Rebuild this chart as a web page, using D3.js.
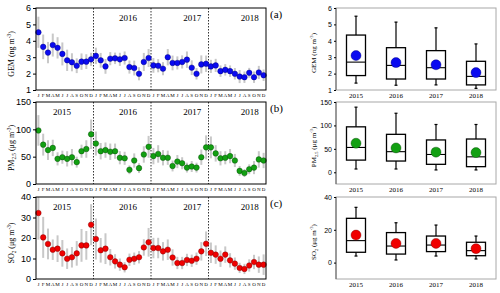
<!DOCTYPE html>
<html>
<head>
<meta charset="utf-8">
<script src="https://cdn.jsdelivr.net/npm/d3@7"></script>
<style>
	body { margin: 0; background: #fff; }
	svg { font-family: 'Liberation Serif', 'DejaVu Serif', serif; display: block; }
</style>
</head>
<body>
<svg width="500" height="293"></svg>
<script>
// month letters and years
var months = ['J','F','M','A','M','J','J','A','S','O','N','D'];
var years = ['2015','2016','2017','2018'];

// monthly means and standard deviations, Jan 2015 - Dec 2018
var gemMean = [4.52,3.63,3.28,3.74,3.57,3.2,2.81,2.69,2.48,2.73,2.73,2.87,
	3.08,2.81,2.44,2.91,2.93,2.87,2.95,2.4,2.34,1.99,2.71,2.95,
	2.5,2.48,2.3,3.0,2.65,2.65,2.71,2.85,2.36,1.99,2.56,2.6,
	2.44,2.5,2.15,2.23,2.15,1.99,1.82,1.78,2.05,1.78,2.07,1.9];
var gemSd = [0.95,0.75,0.65,0.7,0.65,0.7,0.65,0.55,0.45,0.5,0.45,0.4,
	0.5,0.45,0.45,0.4,0.35,0.4,0.4,0.4,0.45,0.4,0.55,0.55,
	0.45,0.4,0.4,0.5,0.45,0.4,0.4,0.5,0.45,0.35,0.55,0.5,
	0.4,0.4,0.35,0.35,0.35,0.35,0.4,0.35,0.3,0.35,0.4,0.35];

var pmMean = [98,72,62,66,46,49,46,49,40,60,64,91,
	74,60,62,59,60,48,47,26,43,29,54,68,
	51,55,48,48,33,41,38,30,32,30,49,67,
	67,56,47,48,51,43,24,20,27,30,45,43];
var pmSd = [28,20,18,15,12,12,14,15,10,12,16,27,
	22,15,14,15,14,12,12,8,13,9,15,20,
	15,16,14,13,10,12,11,9,10,9,14,22,
	20,15,13,12,13,12,9,7,9,12,15,14];

var so2Mean = [32.2,20.3,17.1,14.3,14.8,12.5,9.9,10.6,12.5,16.4,16.4,26.5,
	19.5,14.0,14.8,10.6,8.6,7.0,5.7,9.4,9.9,10.6,15.4,17.9,
	15.1,15.1,13.5,14.3,10.5,7.8,7.8,9.3,8.9,9.9,13.5,17.2,
	12.8,11.9,9.9,11.9,9.1,7.5,5.4,4.9,6.6,8.3,7.0,7.0];
var so2Sd = [13,10,7.5,5,6.5,6.5,5,5,6,8,7,10,
	10,6,7.5,4,3.5,3,2.5,3,3,3,4,7,
	5,5,4.5,5,4,3,3,3,3,3,4.5,6,
	5,4.5,4,4,3.5,3,2.5,2.5,3,3.5,4,5];

// yearly box stats: [whisker low, q1, median, q3, whisker high, mean]
var gemBox = [[1.42,1.88,2.7,4.35,5.5,3.1],[1.29,1.67,2.5,3.58,5.14,2.67],
	[1.31,1.67,2.36,3.4,4.79,2.54],[1.1,1.31,1.83,2.75,3.81,2.06]];
var pmBox = [[7,26,53,97,139,62],[7,24,44,81,126,52],
	[5,17,38,69,102,43],[5,12,33,71,102,42]];
var so2Box = [[4,6.3,13.4,27,33.7,16.8],[1.6,5.2,10.1,18.3,24.3,11.7],
	[4,6.7,10.7,16.2,22.9,11.7],[2.2,4.2,7.3,12.4,16.2,8.5]];

var svg = d3.select('svg');

var panels = [
	{ mean: gemMean, sd: gemSd, box: gemBox, top: 8, dom: [1,6], ticks: [1,2,3,4,5,6],
		boxDom: [1,6], boxTicks: [1,2,3,4,5,6], fill: '#0a0af0', edge: '#000070',
		label: 'GEM', unit: 'ng', tag: '(a)', showFirstYear: false },
	{ mean: pmMean, sd: pmSd, box: pmBox, top: 102, dom: [0,150], ticks: [0,50,100,150],
		boxDom: [-25,150], boxTicks: [0,50,100,150], fill: '#12a012', edge: '#064006',
		label: 'PM', sub: '2.5', unit: 'μg', tag: '(b)', showFirstYear: true },
	{ mean: so2Mean, sd: so2Sd, box: so2Box, top: 197, dom: [0,40], ticks: [0,10,20,30,40],
		boxDom: [-10,40], boxTicks: [0,20,40], fill: '#f00000', edge: '#700000',
		label: 'SO', sub: '2', unit: 'μg', tag: '(c)', showFirstYear: true }
];

var H = 82;
var x = d3.scaleLinear().domain([0, 48]).range([36, 266]);
var xb = d3.scaleBand().domain(years).range([336, 496]);
// year label placement (in months from start of year)
var yearPos = [5.4, 7.2, 8.6, 8.6];

function yLabel(g, cx, cy, p, size) {
	var t = g.append('text')
		.attr('transform', 'translate(' + cx + ',' + cy + ') rotate(-90)')
		.attr('text-anchor', 'middle')
		.attr('font-size', size);
	t.append('tspan').text(p.label);
	if (p.sub) t.append('tspan').attr('font-size', size * 0.65).attr('dy', size * 0.25).text(p.sub);
	t.append('tspan').attr('dy', p.sub ? -size * 0.25 : 0).text(' (' + p.unit + ' m');
	t.append('tspan').attr('font-size', size * 0.65).attr('dy', -size * 0.4).text('-3');
	t.append('tspan').attr('dy', size * 0.4).text(')');
}

panels.forEach(function(p) {
	var y = d3.scaleLinear().domain(p.dom).range([p.top + H, p.top]);
	var g = svg.append('g');

	// error bars
	g.selectAll('rect.err').data(p.mean).enter().append('rect')
		.attr('x', function(d, i) { return x(i + 0.5) - 1; })
		.attr('width', 2)
		.attr('y', function(d, i) { return Math.max(p.top, y(d + p.sd[i])); })
		.attr('height', function(d, i) {
			return Math.min(p.top + H, y(d - p.sd[i])) - Math.max(p.top, y(d + p.sd[i]));
		})
		.attr('fill', '#c8c8c8');

	// year separators
	g.selectAll('line.sep').data([12, 24, 36]).enter().append('line')
		.attr('x1', function(d) { return x(d); }).attr('x2', function(d) { return x(d); })
		.attr('y1', p.top).attr('y2', p.top + H)
		.attr('stroke', '#000').attr('stroke-width', 0.8).attr('stroke-dasharray', '1.5,1.5');

	g.selectAll('circle').data(p.mean).enter().append('circle')
		.attr('cx', function(d, i) { return x(i + 0.5); })
		.attr('cy', function(d) { return y(d); })
		.attr('r', 2.8)
		.attr('fill', p.fill)
		.attr('stroke', p.edge).attr('stroke-width', 0.4);

	// frame
	g.append('rect').attr('x', x(0)).attr('y', p.top).attr('width', x(48) - x(0)).attr('height', H)
		.attr('fill', 'none').attr('stroke', '#000').attr('stroke-width', 1);

	var ya = g.append('g').attr('transform', 'translate(' + x(0) + ',0)')
		.call(d3.axisLeft(y).tickValues(p.ticks).tickFormat(d3.format('d')).tickSize(3).tickPadding(2));
	ya.select('.domain').remove();
	ya.selectAll('text').attr('font-size', 9).attr('font-family', null);

	// month letters
	g.selectAll('text.mon').data(d3.range(48)).enter().append('text')
		.attr('x', function(d) { return x(d + 0.5); })
		.attr('y', p.top + H + 7)
		.attr('text-anchor', 'middle')
		.attr('font-size', 5)
		.text(function(d) { return months[d % 12]; });

	// year labels
	g.selectAll('text.yr').data(years.filter(function(d, i) { return i > 0 || p.showFirstYear; }))
		.enter().append('text')
		.attr('x', function(d) { var i = years.indexOf(d); return x(12 * i + yearPos[i]); })
		.attr('y', p.top + 13)
		.attr('text-anchor', 'middle')
		.attr('font-size', 9)
		.text(function(d) { return d; });

	g.append('text').attr('x', 270).attr('y', p.top + 10).attr('font-size', 11).text(p.tag);

	yLabel(g, 14, p.top + H / 2 + 5, p, 8);

	// right side: box plots
	var yb = d3.scaleLinear().domain(p.boxDom).range([p.top + H, p.top]);
	var gb = svg.append('g');
	gb.append('rect').attr('x', 336).attr('y', p.top).attr('width', 160).attr('height', H)
		.attr('fill', 'none').attr('stroke', '#a8a8a8').attr('stroke-width', 1);
	gb.append('line').attr('x1', 336).attr('x2', 336).attr('y1', p.top).attr('y2', p.top + H)
		.attr('stroke', '#444').attr('stroke-width', 0.8);

	var bw = 19;
	var boxes = gb.selectAll('g.box').data(p.box).enter().append('g')
		.attr('transform', function(d, i) { return 'translate(' + (xb(years[i]) + xb.bandwidth() / 2) + ',0)'; });
	boxes.append('line')
		.attr('y1', function(d) { return yb(d[0]); }).attr('y2', function(d) { return yb(d[4]); })
		.attr('stroke', '#000').attr('stroke-width', 1.2);
	boxes.selectAll('line.cap').data(function(d) { return [d[0], d[4]]; }).enter().append('line')
		.attr('x1', -1.5).attr('x2', 1.5)
		.attr('y1', function(d) { return yb(d); }).attr('y2', function(d) { return yb(d); })
		.attr('stroke', '#000').attr('stroke-width', 1.2);
	boxes.append('rect')
		.attr('x', -bw / 2).attr('width', bw)
		.attr('y', function(d) { return yb(d[3]); })
		.attr('height', function(d) { return yb(d[1]) - yb(d[3]); })
		.attr('fill', '#fff').attr('stroke', '#000').attr('stroke-width', 1.3);
	boxes.append('line')
		.attr('x1', -bw / 2).attr('x2', bw / 2)
		.attr('y1', function(d) { return yb(d[2]); }).attr('y2', function(d) { return yb(d[2]); })
		.attr('stroke', '#000').attr('stroke-width', 1.1);
	boxes.append('circle')
		.attr('cy', function(d) { return yb(d[5]); })
		.attr('r', 5)
		.attr('fill', p.fill).attr('stroke', p.edge).attr('stroke-width', 0.4);

	var yba = gb.append('g').attr('transform', 'translate(336,0)')
		.call(d3.axisLeft(yb).tickValues(p.boxTicks).tickFormat(d3.format('d')).tickSize(2).tickPadding(2));
	yba.select('.domain').remove();
	yba.selectAll('text').attr('font-size', 7).attr('font-family', null);

	gb.selectAll('text.yr').data(years).enter().append('text')
		.attr('x', function(d) { return xb(d) + xb.bandwidth() / 2; })
		.attr('y', p.top + H + 8)
		.attr('text-anchor', 'middle')
		.attr('font-size', 7)
		.text(function(d) { return d; });

	yLabel(gb, 316, p.top + H / 2 + 4, p, 7);
});
</script>
</body>
</html>
